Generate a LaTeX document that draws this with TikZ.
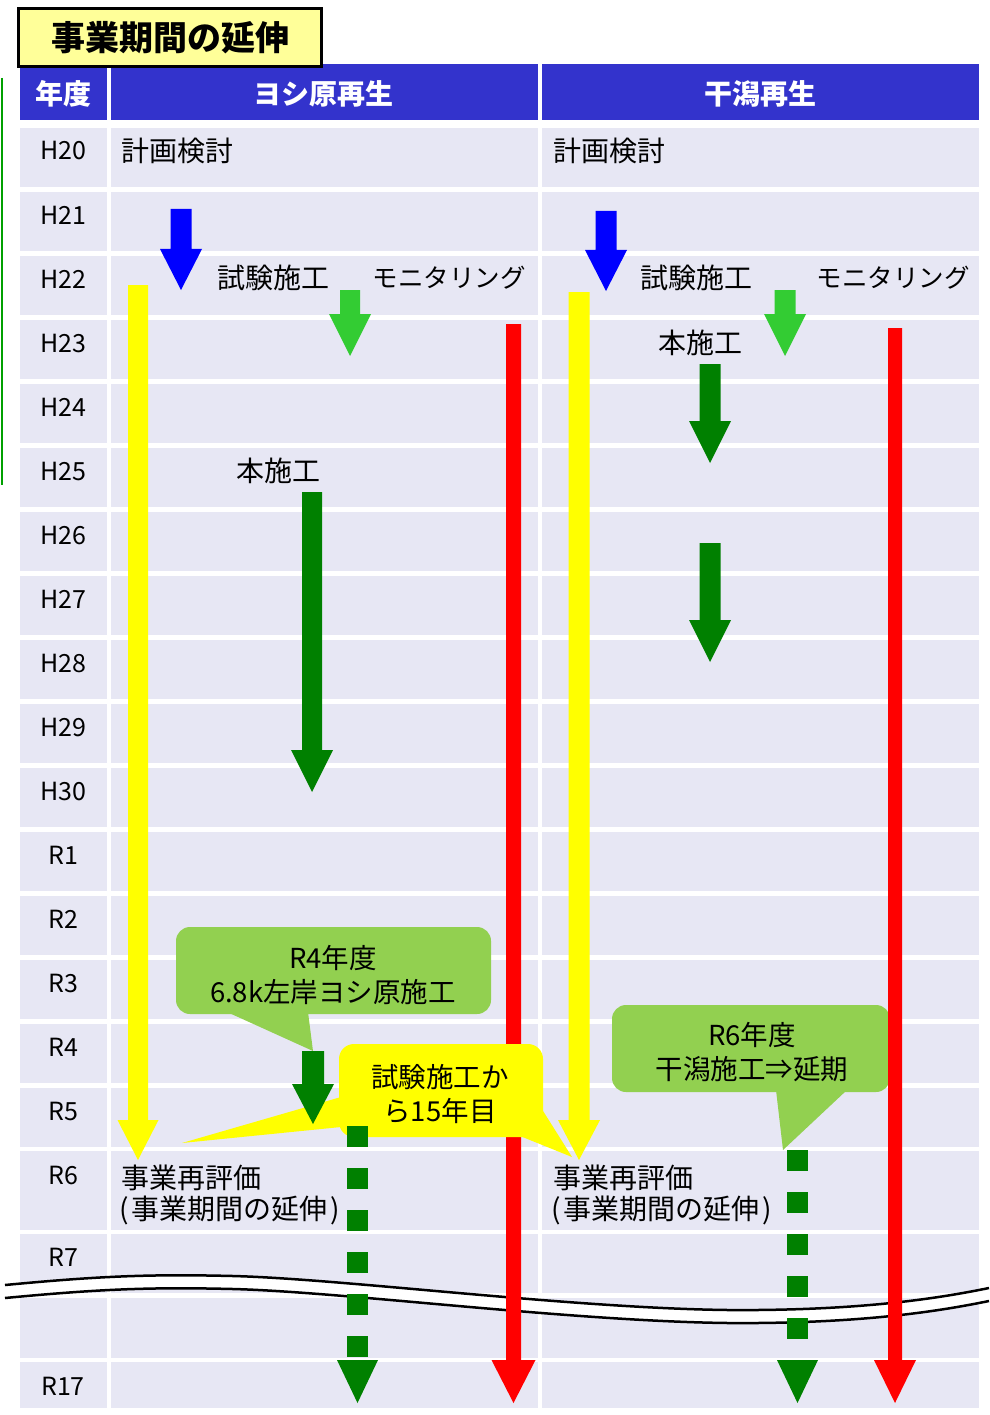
\documentclass[tikz,border=0pt]{standalone}
\usepackage{fontspec}
\setmainfont{Noto Sans CJK JP}
\definecolor{hdr}{HTML}{3333CC}
\definecolor{cell}{HTML}{E7E7F4}
\definecolor{lgreen}{HTML}{33CC33}
\definecolor{dgreen}{HTML}{008000}
\definecolor{cgreen}{HTML}{92D050}
\definecolor{tyellow}{HTML}{FFFF99}
\definecolor{redx}{HTML}{FF0000}
\definecolor{yel}{HTML}{FFFF00}
\definecolor{edgegreen}{HTML}{00A000}
% color, cx, ytop, yhead, ytip, shaft half width, head half width
\newcommand\myarrow[7]{\fill[#1] ({#2-#6},#3) -- ({#2+#6},#3) -- ({#2+#6},#4) -- ({#2+#7},#4) -- (#2,#5) -- ({#2-#7},#4) -- ({#2-#6},#4) -- cycle;}
\newcommand\wavecurve{(5,1285) .. controls (100,1276) and (150,1274) .. (233,1276) .. controls (350,1279) and (600,1312) .. (757,1310) .. controls (870,1309) and (940,1298) .. (989,1288)}
\tikzset{
  hdrtxt/.style={text=white,inner sep=0pt,font=\fontsize{28}{30}\selectfont\bfseries},
  yeartxt/.style={inner sep=0pt,font=\fontsize{25}{28}\selectfont},
  txt/.style={inner sep=0pt,font=\fontsize{28}{30}\selectfont},
  kanatxt/.style={inner sep=0pt,font=\fontsize{25.5}{30}\selectfont},
  ctxt/.style={inner sep=0pt,align=center,font=\fontsize{27.5}{34.5}\selectfont},
}
\begin{document}
\begin{tikzpicture}[x=1pt,y=-1pt]
\useasboundingbox (0,0) rectangle (989,1415);
\fill[white] (0,0) rectangle (989,1415);
% left edge green line
\draw[edgegreen,line width=2] (1.5,78) -- (1.5,485);
% header
\fill[hdr] (20,64) rectangle (107,120);
\fill[hdr] (111,64) rectangle (538,120);
\fill[hdr] (542,64) rectangle (979,120);
\node[hdrtxt] (hyear) at (63,94) {年度};
\node[hdrtxt] (hyoshi) at (323,94) {ヨシ原再生};
\node[hdrtxt] (hhigata) at (760,94) {干潟再生};
% rows
\foreach \lab [count=\i from 0] in {H20,H21,H22,H23,H24,H25,H26,H27,H28,H29,H30,R1,R2,R3,R4,R5}{
  \pgfmathsetmacro\yt{128+64*\i}
  \fill[cell] (20,\yt) rectangle (107,\yt+59);
  \fill[cell] (111,\yt) rectangle (538,\yt+59);
  \fill[cell] (542,\yt) rectangle (979,\yt+59);
  \node[yeartxt] (y\lab) at (63,\yt+23) {\lab};
}
\foreach \yt/\yb in {1151/1230,1234/1293,1298/1358,1362/1408}{
  \fill[cell] (20,\yt) rectangle (107,\yb);
  \fill[cell] (111,\yt) rectangle (538,\yb);
  \fill[cell] (542,\yt) rectangle (979,\yb);
}
\node[yeartxt] (yR6) at (63,1175) {R6};
\node[yeartxt] (yR7) at (63,1257) {R7};
\node[yeartxt] (yR17) at (63,1386) {R17};
% wave break
\draw[white,line width=12] [shift={(0,6.5)}] \wavecurve;
\draw[black,line width=2.5] \wavecurve;
\draw[black,line width=2.5] [shift={(0,13)}] \wavecurve;
% texts
\node[txt,anchor=west] (kl) at (121,151) {計画検討};
\node[txt,anchor=west] (kr) at (553,151) {計画検討};
\node[txt] (sl) at (273,278) {試験施工};
\node[kanatxt] (ml) at (449,278) {モニタリング};
\node[txt] (sr) at (696,278) {試験施工};
\node[kanatxt] (mr) at (893,278) {モニタリング};
\node[txt] (hl) at (278,471) {本施工};
\node[txt] (hr) at (700,343) {本施工};
\node[txt,anchor=west] (jl1) at (121,1178) {事業再評価};
\node[txt,anchor=west] (jl2) at (119,1210) {(\hspace{3pt}事業期間の延伸\hspace{3pt})};
\node[txt,anchor=west] (jr1) at (553,1178) {事業再評価};
\node[txt,anchor=west] (jr2) at (551,1210) {(\hspace{3pt}事業期間の延伸\hspace{3pt})};
% yellow arrows
\myarrow{yel}{138}{285}{1120}{1160}{10}{20.5}
\myarrow{yel}{579}{292}{1120}{1160}{10.5}{21}
% left red
\myarrow{redx}{513.5}{324}{1360}{1403}{7.5}{22}
% yellow callout
\fill[yel,rounded corners=15] (339,1044) rectangle (543,1137);
\fill[yel] (341,1097) -- (182,1143) -- (341,1127) -- cycle;
\fill[yel] (533,1095) -- (572,1157) -- (520,1136) -- cycle;
\node[ctxt] (cy) at (440,1094) {試験施工か\\ら15年目};
% green callouts
\fill[cgreen,rounded corners=14] (176,927) rectangle (491,1014);
\fill[cgreen] (227,1012) -- (308,1012) -- (313,1051) -- cycle;
\node[ctxt] (cg1) at (333,975) {R4年度\\6.8k左岸ヨシ原施工};
\fill[cgreen,rounded corners=14] (612,1005) rectangle (890,1092);
\fill[cgreen] (776,1090) -- (847,1090) -- (783,1150) -- cycle;
\node[ctxt] (cg2) at (752,1052) {R6年度\\干潟施工⇒延期};
% right red
\myarrow{redx}{895}{328}{1360}{1403}{7}{21}
% blue arrows
\myarrow{blue}{181}{209}{249}{290}{10.5}{21}
\myarrow{blue}{606}{211}{250}{291}{10.5}{21}
% light green arrows
\myarrow{lgreen}{350}{290}{314}{356}{10}{21}
\myarrow{lgreen}{785}{290}{314}{356}{10.5}{21}
% dark green arrows
\myarrow{dgreen}{312}{492}{750}{792}{10}{21}
\myarrow{dgreen}{710}{364}{421}{463}{10.5}{21}
\myarrow{dgreen}{710}{543}{620}{662}{10.5}{21}
\myarrow{dgreen}{313}{1051}{1084}{1124}{11}{21}
% dashed green arrows
\foreach \k in {0,...,5}{\fill[dgreen] (347,1126+42*\k) rectangle (368,1147+42*\k);}
\fill[dgreen] (337,1360) -- (378,1360) -- (357.5,1403) -- cycle;
\foreach \k in {0,...,4}{\fill[dgreen] (787,1150+42*\k) rectangle (808,1171+42*\k);}
\fill[dgreen] (777,1360) -- (818,1360) -- (797.5,1403) -- cycle;
% title box
\node[draw=black,line width=3,fill=tyellow,minimum width=303,minimum height=58,inner sep=0pt,font=\fontsize{34}{36}\selectfont\bfseries] (title) at (170,38) {事業期間の延伸};
\end{tikzpicture}
\end{document}
